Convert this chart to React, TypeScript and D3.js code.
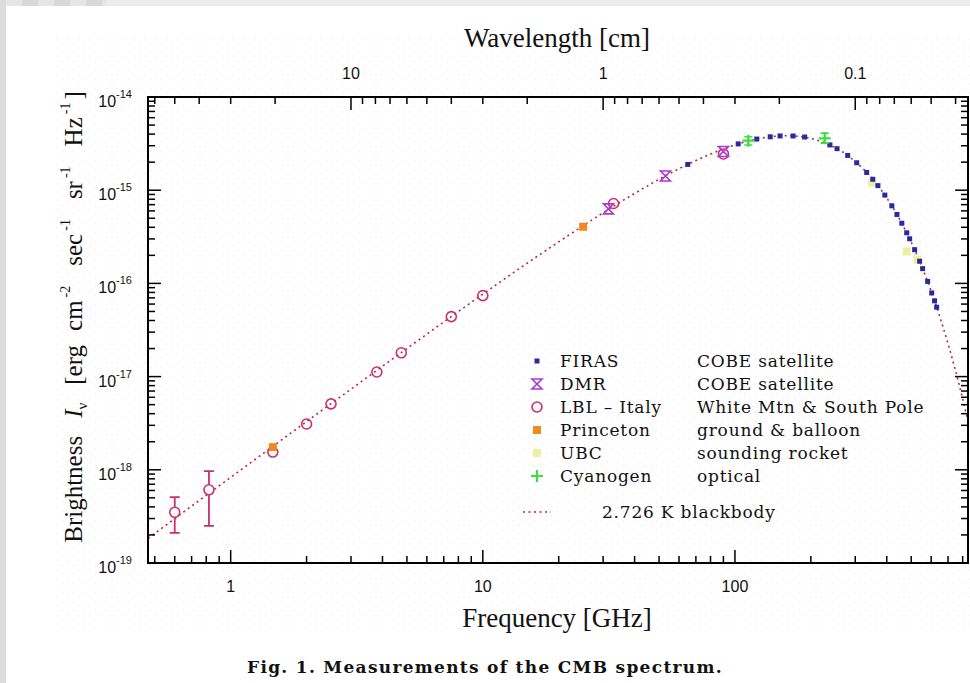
import * as d3 from 'd3';

const W = 970;
const H = 683;

// 2.726 K blackbody (GHz, erg cm^-2 s^-1 sr^-1 Hz^-1)
const bbFreq = [0.47, 0.5, 0.7, 1, 1.5, 2, 3, 5, 7, 10, 15, 20, 30, 40, 50, 60, 70, 80, 90, 100, 120, 140, 160, 180, 200, 225, 250, 275, 300, 325, 350, 375, 400, 425, 450, 475, 500, 525, 550, 575, 600, 625, 650, 675, 700, 725, 750, 775, 800, 850];
const bbVal = [1.84e-19, 2.08e-19, 4.08e-19, 8.3e-19, 1.86e-18, 3.29e-18, 7.34e-18, 2.0e-17, 3.86e-17, 7.66e-17, 1.65e-16, 2.79e-16, 5.72e-16, 9.23e-16, 1.31e-15, 1.7e-15, 2.08e-15, 2.44e-15, 2.77e-15, 3.06e-15, 3.5e-15, 3.76e-15, 3.84e-15, 3.77e-15, 3.59e-15, 3.26e-15, 2.86e-15, 2.44e-15, 2.03e-15, 1.66e-15, 1.34e-15, 1.06e-15, 8.26e-16, 6.38e-16, 4.88e-16, 3.69e-16, 2.77e-16, 2.07e-16, 1.53e-16, 1.13e-16, 8.24e-17, 6.0e-17, 4.35e-17, 3.13e-17, 2.25e-17, 1.61e-17, 1.15e-17, 8.16e-18, 5.78e-18, 2.87e-18];

// FIRAS (COBE)
const firasFreq = [65, 103, 122, 138, 151, 170, 189, 238, 254, 280, 304, 333, 352, 369, 393, 419, 439, 459, 480, 493, 516, 540, 555, 581, 603, 619, 631];
const firasVal = [1.89e-15, 3.14e-15, 3.54e-15, 3.74e-15, 3.82e-15, 3.82e-15, 3.72e-15, 3.06e-15, 2.79e-15, 2.36e-15, 1.97e-15, 1.55e-15, 1.31e-15, 1.12e-15, 8.86e-16, 6.8e-16, 5.49e-16, 4.42e-16, 3.49e-16, 3.01e-16, 2.3e-16, 1.73e-16, 1.44e-16, 1.05e-16, 7.9e-17, 6.5e-17, 5.55e-17];

// DMR (COBE)
const dmrFreq = [31.5, 53, 90];
const dmrVal = [6.3e-16, 1.42e-15, 2.6e-15];

// LBL - Italy
const lblFreq = [0.6, 0.82, 1.47, 2.0, 2.5, 3.8, 4.75, 7.5, 10, 33, 90];
const lblVal = [3.5e-19, 6.1e-19, 1.55e-18, 3.1e-18, 5.1e-18, 1.12e-17, 1.8e-17, 4.4e-17, 7.4e-17, 7.2e-16, 2.45e-15];
const lblLow = [2.1e-19, 2.5e-19, 1.55e-18, 3.1e-18, 5.1e-18, 1.12e-17, 1.8e-17, 4.4e-17, 7.4e-17, 7.2e-16, 2.45e-15];
const lblHigh = [5.1e-19, 9.7e-19, 1.55e-18, 3.1e-18, 5.1e-18, 1.12e-17, 1.8e-17, 4.4e-17, 7.4e-17, 7.2e-16, 2.45e-15];

// Princeton
const prFreq = [1.47, 25];
const prVal = [1.75e-18, 4.05e-16];

// UBC
const ubcFreq = [350, 480, 530];
const ubcVal = [1.2e-15, 2.2e-16, 1.8e-16];

// Cyanogen
const cnFreq = [113, 227];
const cnVal = [3.4e-15, 3.6e-15];
const cnLow = [3.05e-15, 3.2e-15];
const cnHigh = [3.75e-15, 4.1e-15];

const legendNames = ['FIRAS', 'DMR', 'LBL \u2013 Italy', 'Princeton', 'UBC', 'Cyanogen'];
const legendDesc = ['COBE satellite', 'COBE satellite', 'White Mtn & South Pole', 'ground & balloon', 'sounding rocket', 'optical'];
const legendKind = ['firas', 'dmr', 'lbl', 'pr', 'ubc', 'cn'];

const C = {
  firas: '#2a2a9e',
  dmr: '#a63cd2',
  lbl: '#c8306c',
  pr: '#f08a1c',
  ubc: '#f0eea4',
  cn: '#3ede3e',
  bb: '#b42a3e',
};

const serif = '"Liberation Serif", "Times New Roman", serif';
const sans = '"Liberation Sans", Arial, sans-serif';
const legendFont = '"DejaVu Serif", serif';

const isPow10 = (v: number) => Math.abs(Math.log10(v) - Math.round(Math.log10(v))) < 1e-6;

function Marker({ kind, cx, cy }: { kind: string; cx: number; cy: number }) {
  if (kind === 'firas') return <rect x={cx - 2.5} y={cy - 2.5} width={5} height={5} fill={C.firas} />;
  if (kind === 'dmr') {
    const s = 5;
    return (
      <path
        d={`M${cx - s},${cy - s}H${cx + s}L${cx - s},${cy + s}H${cx + s}Z`}
        fill="none"
        stroke={C.dmr}
        strokeWidth={1.6}
      />
    );
  }
  if (kind === 'lbl') return <circle cx={cx} cy={cy} r={5} fill="none" stroke={C.lbl} strokeWidth={1.6} />;
  if (kind === 'pr') return <rect x={cx - 4} y={cy - 4} width={8} height={8} fill={C.pr} />;
  if (kind === 'ubc') return <rect x={cx - 4} y={cy - 4} width={8} height={8} fill={C.ubc} />;
  return (
    <path d={`M${cx - 6},${cy}H${cx + 6}M${cx},${cy - 6}V${cy + 6}`} stroke={C.cn} strokeWidth={2.2} />
  );
}

export default function App() {
  const left = 148, right = 968, top = 97, bottom = 563;
  const x = d3.scaleLog().domain([0.47, 840]).range([left, right]);
  const y = d3.scaleLog().domain([1e-19, 1e-14]).range([bottom, top]);
  // wavelength in cm = 30 / frequency in GHz
  const xTop = d3.scaleLog().domain([30 / 0.47, 30 / 840]).range([left, right]);

  const line = d3
    .line<number>()
    .x((_, i) => x(bbFreq[i]))
    .y((d) => y(d))
    .curve(d3.curveMonotoneX);

  const majorLen = 13;
  const minorLen = 7;

  const xTicks = x.ticks();
  const yTicks = y.ticks();
  const topTicks = xTop.ticks();

  const rows = [361, 384, 407, 430, 453, 476];

  return (
    <svg
      width={W}
      height={H}
      viewBox={`0 0 ${W} ${H}`}
      style={{ position: 'absolute', left: 0, top: 0, display: 'block' }}
    >
      <defs>
        <pattern id="tiles" width={32} height={6} patternUnits="userSpaceOnUse" x={6}>
          <rect width={16} height={6} fill="#e6e6e6" />
          <rect x={16} width={16} height={6} fill="#d8d8d8" />
        </pattern>
        <pattern id="speckle" width={11} height={9} patternUnits="userSpaceOnUse">
          <circle cx={2} cy={3} r={0.7} fill="#f7d2de" />
          <circle cx={7.5} cy={7.5} r={0.7} fill="#f7d2de" />
        </pattern>
        <clipPath id="plotClip">
          <rect x={left} y={top} width={right - left} height={bottom - top} />
        </clipPath>
      </defs>

      {/* page background */}
      <rect width={W} height={H} fill="#dcdcdc" />
      <rect x={6} y={0} width={100} height={6} fill="url(#tiles)" />
      <rect x={106} y={0} width={W - 106} height={6} fill="#ececec" />
      <rect x={6} y={6} width={W - 6} height={H - 6} fill="#ffffff" />
      <rect x={52} y={38} width={W - 52} height={594} fill="url(#speckle)" opacity={0.6} />

      {/* blackbody curve */}
      <g clipPath="url(#plotClip)">
        <path d={line(bbVal) || ''} fill="none" stroke={C.bb} strokeWidth={1.6} strokeDasharray="2,3.5" />
      </g>

      {/* UBC */}
      {ubcFreq.map((f, i) => (
        <Marker key={`u${i}`} kind="ubc" cx={x(f)} cy={y(ubcVal[i])} />
      ))}

      {/* LBL - Italy */}
      {lblFreq.map((f, i) => {
        const cx = x(f);
        const hasBar = lblHigh[i] > lblVal[i];
        return (
          <g key={`l${i}`}>
            {hasBar && (
              <path
                d={`M${cx},${y(lblLow[i])}V${y(lblHigh[i])}M${cx - 5},${y(lblLow[i])}H${cx + 5}M${cx - 5},${y(lblHigh[i])}H${cx + 5}`}
                stroke={C.lbl}
                strokeWidth={1.8}
                fill="none"
              />
            )}
            {hasBar && <circle cx={cx} cy={y(lblVal[i])} r={5.5} fill="#fff" />}
            <Marker kind="lbl" cx={cx} cy={y(lblVal[i])} />
          </g>
        );
      })}

      {/* Princeton */}
      {prFreq.map((f, i) => (
        <Marker key={`p${i}`} kind="pr" cx={x(f)} cy={y(prVal[i])} />
      ))}

      {/* DMR */}
      {dmrFreq.map((f, i) => (
        <Marker key={`d${i}`} kind="dmr" cx={x(f)} cy={y(dmrVal[i])} />
      ))}

      {/* FIRAS */}
      {firasFreq.map((f, i) => (
        <Marker key={`f${i}`} kind="firas" cx={x(f)} cy={y(firasVal[i])} />
      ))}

      {/* Cyanogen */}
      {cnFreq.map((f, i) => {
        const cx = x(f);
        return (
          <g key={`c${i}`}>
            <path
              d={`M${cx},${y(cnLow[i])}V${y(cnHigh[i])}M${cx - 4},${y(cnLow[i])}H${cx + 4}M${cx - 4},${y(cnHigh[i])}H${cx + 4}`}
              stroke={C.cn}
              strokeWidth={1.6}
              fill="none"
            />
            <Marker kind="cn" cx={cx} cy={y(cnVal[i])} />
          </g>
        );
      })}

      {/* frame */}
      <rect x={left} y={top} width={right - left} height={bottom - top} fill="none" stroke="#000" strokeWidth={2} />

      {/* bottom + top ticks */}
      <g stroke="#000" strokeWidth={1.5}>
        {xTicks.map((t, i) => {
          const len = isPow10(t) ? majorLen : minorLen;
          return <line key={`xb${i}`} x1={x(t)} x2={x(t)} y1={bottom} y2={bottom - len} />;
        })}
        {topTicks.map((t, i) => {
          const len = isPow10(t) ? majorLen : minorLen;
          return <line key={`xt${i}`} x1={xTop(t)} x2={xTop(t)} y1={top} y2={top + len} />;
        })}
        {yTicks.map((t, i) => {
          const len = isPow10(t) ? majorLen : minorLen;
          return (
            <g key={`y${i}`}>
              <line x1={left} x2={left + len} y1={y(t)} y2={y(t)} />
              <line x1={right} x2={right - len} y1={y(t)} y2={y(t)} />
            </g>
          );
        })}
      </g>

      {/* tick labels */}
      <g fontFamily={sans} fontSize={16} fill="#111">
        {xTicks.filter(isPow10).map((t, i) => (
          <text key={`xl${i}`} x={x(t)} y={592} textAnchor="middle">
            {d3.format('~g')(t)}
          </text>
        ))}
        {topTicks.filter(isPow10).map((t, i) => (
          <text key={`tl${i}`} x={xTop(t)} y={79} textAnchor="middle">
            {d3.format('~g')(t)}
          </text>
        ))}
        {yTicks.filter(isPow10).map((t, i) => (
          <text key={`yl${i}`} x={132} y={y(t) + 10} textAnchor="end">
            10
            <tspan fontSize={11} dy={-9}>
              {Math.round(Math.log10(t))}
            </tspan>
          </text>
        ))}
      </g>

      {/* axis titles */}
      <text x={557} y={47} textAnchor="middle" fontFamily={serif} fontSize={27} fill="#111">
        Wavelength [cm]
      </text>
      <text x={557} y={627} textAnchor="middle" fontFamily={serif} fontSize={27} fill="#111">
        Frequency [GHz]
      </text>
      <text
        transform="translate(82,317) rotate(-90)"
        textAnchor="middle"
        fontFamily={serif}
        fontSize={25}
        fill="#111"
      >
        <tspan>Brightness</tspan>
        <tspan fontStyle="italic" dx={18}>I</tspan>
        <tspan fontSize={15} dy={5}>ν</tspan>
        <tspan dy={-5} dx={18}>[erg</tspan>
        <tspan dx={14}>cm</tspan>
        <tspan fontSize={14} dy={-12} dx={3}>-2</tspan>
        <tspan dy={12} dx={20}>sec</tspan>
        <tspan fontSize={14} dy={-12} dx={3}>-1</tspan>
        <tspan dy={12} dx={20}>sr</tspan>
        <tspan fontSize={14} dy={-12} dx={3}>-1</tspan>
        <tspan dy={12} dx={20}>Hz</tspan>
        <tspan fontSize={14} dy={-12} dx={3}>-1</tspan>
        <tspan dy={12} dx={3}>]</tspan>
      </text>

      {/* legend */}
      <g fontFamily={legendFont} fontSize={17} fill="#111" letterSpacing={0.8}>
        {legendNames.map((n, i) => (
          <g key={`lg${i}`}>
            <Marker kind={legendKind[i]} cx={537} cy={rows[i]} />
            <text x={560} y={rows[i] + 6}>{n}</text>
            <text x={697} y={rows[i] + 6}>{legendDesc[i]}</text>
          </g>
        ))}
        <line x1={523} x2={551} y1={512} y2={512} stroke={C.bb} strokeWidth={1.6} strokeDasharray="2,3.5" />
        <text x={602} y={518}>2.726 K blackbody</text>
      </g>

      {/* caption */}
      <text
        x={485}
        y={673}
        textAnchor="middle"
        fontFamily={legendFont}
        fontWeight="bold"
        fontSize={17}
        letterSpacing={1.3}
        fill="#111"
      >
        Fig. 1. Measurements of the CMB spectrum.
      </text>
    </svg>
  );
}
